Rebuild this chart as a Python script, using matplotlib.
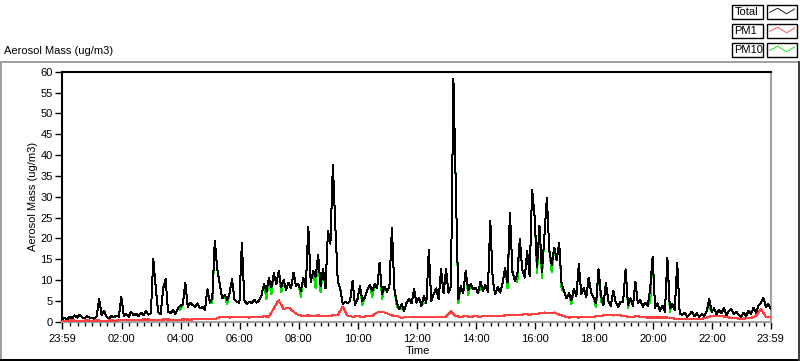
import matplotlib
matplotlib.use("Agg")
import matplotlib.pyplot as plt
import numpy as np
from matplotlib.patches import Rectangle
from matplotlib.lines import Line2D

plt.rcParams['font.family'] = ['Liberation Sans', 'DejaVu Sans']

# ---------------- data ----------------
# Total aerosol mass, 5-minute steps from 23:59 to 23:59 (one row per hour)
total_h00 = [0.6, 0.9, 0.5, 1.2, 0.8, 1.5, 1.0, 1.7, 1.1, 0.8, 1.4, 1.0]
total_h01 = [0.9, 0.7, 1.3, 5.4, 1.6, 2.6, 1.2, 0.8, 1.4, 1.1, 1.5, 1.2]
total_h02 = [6.0, 1.4, 1.8, 1.2, 2.4, 1.5, 1.9, 1.3, 2.2, 1.6, 2.6, 1.7]
total_h03 = [2.0, 15.0, 8.1, 2.2, 1.8, 8.0, 10.2, 2.4, 2.0, 2.8, 1.9, 3.2]
total_h04 = [3.8, 4.2, 9.4, 3.6, 4.5, 4.0, 3.6, 4.4, 3.2, 3.5, 2.9, 7.8]
total_h05 = [4.6, 5.8, 19.4, 12.6, 9.0, 5.6, 6.4, 5.2, 6.8, 10.2, 5.4, 4.8]
total_h06 = [4.5, 19.0, 5.2, 4.2, 4.8, 4.4, 5.3, 4.6, 5.0, 6.4, 9.0, 7.2]
total_h07 = [10.5, 8.2, 11.6, 9.0, 12.2, 8.4, 10.0, 7.6, 9.4, 8.0, 11.8, 8.6]
total_h08 = [9.0, 7.4, 10.6, 8.2, 22.8, 9.4, 12.2, 10.8, 16.0, 8.6, 12.6, 8.0]
total_h09 = [21.8, 18.7, 37.7, 22.9, 9.6, 7.8, 4.2, 4.8, 4.4, 5.0, 9.8, 4.0]
total_h10 = [5.4, 8.6, 5.0, 5.8, 7.6, 8.8, 7.4, 9.0, 8.0, 14.2, 6.6, 8.4]
total_h11 = [7.2, 8.6, 22.6, 7.8, 4.6, 3.0, 4.2, 2.6, 4.6, 5.4, 4.4, 7.8]
total_h12 = [4.6, 5.8, 3.8, 6.2, 4.4, 17.3, 5.0, 6.6, 8.0, 5.4, 12.6, 6.8]
total_h13 = [12.6, 7.0, 8.4, 58.3, 32.0, 5.4, 8.6, 6.8, 12.2, 7.6, 9.0, 7.8]
total_h14 = [8.2, 6.8, 9.6, 7.4, 8.8, 7.2, 24.2, 9.8, 6.6, 8.4, 7.0, 9.2]
total_h15 = [13.0, 9.4, 26.2, 12.0, 9.8, 11.4, 19.8, 12.4, 10.6, 17.0, 11.0, 31.7]
total_h16 = [25.4, 13.2, 23.0, 12.0, 20.6, 29.8, 17.0, 13.6, 17.8, 14.8, 19.0, 9.0]
total_h17 = [7.4, 5.6, 6.8, 5.2, 7.8, 6.2, 13.8, 6.6, 8.2, 5.8, 10.6, 7.0]
total_h18 = [5.8, 4.4, 12.6, 6.2, 4.0, 9.4, 5.0, 3.8, 7.4, 4.6, 3.6, 4.8]
total_h19 = [4.8, 12.6, 4.0, 5.6, 3.8, 9.6, 4.4, 5.2, 3.6, 4.6, 3.8, 7.8]
total_h20 = [15.6, 3.4, 4.4, 2.6, 3.8, 2.4, 15.3, 3.2, 4.2, 2.8, 14.2, 2.0]
total_h21 = [1.6, 2.2, 1.2, 1.8, 2.4, 1.4, 2.0, 1.2, 1.8, 1.4, 2.6, 5.4]
total_h22 = [2.4, 3.2, 1.8, 2.8, 2.0, 3.4, 1.6, 2.6, 3.0, 1.8, 2.4, 1.6]
total_h23 = [1.2, 2.2, 1.4, 2.6, 1.8, 3.4, 2.2, 3.8, 4.4, 5.8, 3.6, 4.2, 3.0]

# PM1, 10-minute steps from 23:59 to 23:59 (one row per hour)
pm1_h00 = [0.25, 0.25, 0.3, 0.25, 0.25, 0.3]
pm1_h01 = [0.25, 0.3, 0.25, 0.25, 0.3, 0.25]
pm1_h02 = [0.5, 0.45, 0.5, 0.45, 0.5, 0.55]
pm1_h03 = [0.5, 0.45, 0.5, 0.55, 0.5, 0.45]
pm1_h04 = [0.5, 0.55, 0.5, 0.6, 0.55, 0.6]
pm1_h05 = [0.6, 0.6, 1.1, 1.2, 1.0, 1.2]
pm1_h06 = [1.1, 1.2, 1.0, 1.2, 1.1, 1.3]
pm1_h07 = [1.2, 3.2, 5.2, 3.0, 3.4, 2.4]
pm1_h08 = [1.6, 1.4, 1.5, 1.4, 1.5, 1.4]
pm1_h09 = [1.4, 1.5, 1.6, 3.6, 1.4, 1.2]
pm1_h10 = [1.3, 1.2, 1.3, 1.4, 2.2, 2.4]
pm1_h11 = [2.0, 1.5, 1.4, 0.9, 1.2, 1.2]
pm1_h12 = [1.2, 1.2, 1.1, 1.2, 1.2, 1.2]
pm1_h13 = [1.2, 2.5, 1.3, 1.2, 1.3, 1.2]
pm1_h14 = [1.3, 1.2, 1.4, 1.3, 1.3, 1.4]
pm1_h15 = [1.5, 1.6, 1.7, 1.6, 1.8, 1.7]
pm1_h16 = [1.8, 2.0, 2.2, 2.0, 2.2, 1.7]
pm1_h17 = [1.3, 1.0, 1.1, 1.0, 1.1, 1.1]
pm1_h18 = [1.2, 1.4, 1.5, 1.6, 1.5, 1.6]
pm1_h19 = [1.4, 1.2, 1.2, 1.3, 1.1, 1.0]
pm1_h20 = [1.0, 1.0, 1.0, 1.0, 0.8, 0.7]
pm1_h21 = [0.6, 0.6, 0.7, 0.6, 0.7, 1.0]
pm1_h22 = [1.4, 1.3, 1.3, 1.2, 0.8, 0.8]
pm1_h23 = [0.7, 0.8, 0.9, 1.4, 3.0, 1.2, 1.0]

# PM10 equals Total except at these times (hours) where it is lower
pm10_dip_hours = [3.98, 5.07, 5.57, 6.87, 7.07, 7.40, 8.07, 8.57, 8.73, 10.15,
                  10.48, 10.82, 11.32, 11.48, 12.23, 13.40, 13.73, 14.15, 15.07, 15.40,
                  16.07, 16.23, 16.57, 16.90, 17.23, 18.07, 18.23, 19.15, 19.90, 20.57, 21.90]
pm10_dip_values = [2.8, 4.4, 4.2, 5.4, 6.6, 7.0, 6.0, 8.0, 7.0, 4.0,
                   6.0, 5.4, 3.6, 3.2, 4.6, 4.4, 6.4, 8.0, 8.0, 9.6,
                   11.6, 10.4, 11.8, 7.6, 4.2, 3.4, 4.8, 3.2, 4.6, 2.4, 3.8]

y_ticks = [0, 5, 10, 15, 20, 25, 30, 35, 40, 45, 50, 55, 60]
x_tick_labels = ['23:59', '02:00', '04:00', '06:00', '08:00', '10:00', '12:00',
                 '14:00', '16:00', '18:00', '20:00', '22:00', '23:59']
series_names = ['Total', 'PM1', 'PM10']

# ---------------- assemble ----------------
total = np.array(total_h00 + total_h01 + total_h02 + total_h03 + total_h04 + total_h05 +
                 total_h06 + total_h07 + total_h08 + total_h09 + total_h10 + total_h11 +
                 total_h12 + total_h13 + total_h14 + total_h15 + total_h16 + total_h17 +
                 total_h18 + total_h19 + total_h20 + total_h21 + total_h22 + total_h23)
pm1 = np.array(pm1_h00 + pm1_h01 + pm1_h02 + pm1_h03 + pm1_h04 + pm1_h05 +
               pm1_h06 + pm1_h07 + pm1_h08 + pm1_h09 + pm1_h10 + pm1_h11 +
               pm1_h12 + pm1_h13 + pm1_h14 + pm1_h15 + pm1_h16 + pm1_h17 +
               pm1_h18 + pm1_h19 + pm1_h20 + pm1_h21 + pm1_h22 + pm1_h23)
t0, t1 = -1 / 60, 24 - 1 / 60
t_total = np.linspace(t0, t1, len(total))
t_pm1 = np.linspace(t0, t1, len(pm1))
pm10 = total.copy()
step = (t1 - t0) / (len(total) - 1)
for h, v in zip(pm10_dip_hours, pm10_dip_values):
    pm10[int(round((h - t0) / step))] = v

# ---------------- figure ----------------
W, H = 800, 361
fig = plt.figure(figsize=(W / 100, H / 100), dpi=100)
fig.patch.set_facecolor('white')

def fx(x):
    return x / W

def fy(y):
    return 1 - y / H

L, R, T, B = 62.3, 770.7, 71.7, 321.7
ax = fig.add_axes([fx(L), fy(B), (R - L) / W, (B - T) / H])
ax.set_facecolor('white')

colors = {'Total': '#000000', 'PM1': '#ff4040', 'PM10': '#00e000'}
LW = 0.72
ax.plot(t_total, pm10, color=colors['PM10'], lw=LW, antialiased=False, zorder=2)
ax.plot(t_total, total, color=colors['Total'], lw=LW, antialiased=False, zorder=3)
ax.plot(t_pm1, pm1, color=colors['PM1'], lw=0.8, antialiased=False, zorder=4)

ax.set_xlim(t0, t1)
ax.set_ylim(0, 60)
ax.set_yticks(y_ticks)
ax.set_yticklabels([str(v) for v in y_ticks])
major_x = [t0] + list(range(2, 24, 2)) + [t1]
ax.set_xticks(major_x)
ax.set_xticklabels(x_tick_labels)
ax.set_xticks([m for m in np.arange(0.25, 24, 0.25) if m % 2 != 0], minor=True)

ax.tick_params(axis='y', which='major', direction='out', length=5, width=1,
               color='black', labelsize=8, pad=2)
ax.tick_params(axis='x', which='major', direction='out', length=5, width=1,
               color='black', labelsize=8, pad=4)
ax.tick_params(axis='x', which='minor', direction='out', length=3, width=1,
               color='black')

for side in ['left', 'top']:
    ax.spines[side].set_color('black')
    ax.spines[side].set_linewidth(1.5)
for side in ['right', 'bottom']:
    ax.spines[side].set_color('#a0a0a0')
    ax.spines[side].set_linewidth(1.5)

# axis titles
fig.text(fx(32.5), fy(196.7), 'Aerosol Mass (ug/m3)', rotation=90,
         ha='center', va='center', fontsize=8)
fig.text(fx(3.5), fy(51.5), 'Aerosol Mass (ug/m3)', ha='left', va='center', fontsize=8)
fig.text(fx(406), fy(351), 'Time', ha='left', va='center', fontsize=8)

# outer panel frame
fig.add_artist(Line2D([fx(0), fx(799)], [fy(61.7), fy(61.7)], color='#a0a0a0', lw=1.2,
                      transform=fig.transFigure, antialiased=False))
fig.add_artist(Line2D([fx(1), fx(1)], [fy(61.7), fy(359.3)], color='#a0a0a0', lw=1.2,
                      transform=fig.transFigure, antialiased=False))
fig.add_artist(Line2D([fx(0), fx(800)], [fy(359.5), fy(359.5)], color='black', lw=1.2,
                      transform=fig.transFigure, antialiased=False))
fig.add_artist(Line2D([fx(799), fx(799)], [fy(61.7), fy(360)], color='#404040', lw=1.2,
                      transform=fig.transFigure, antialiased=False))

# legend (LabVIEW style plot legend)
zig_x = [0.08, 0.35, 0.65, 0.92]
zig_y = [0.45, 0.75, 0.35, 0.70]
for i, name in enumerate(series_names):
    top = 4.7 + 19 * i
    h = 14
    box = Rectangle((fx(732.3), fy(top + h)), (762.7 - 732.3) / W, h / H,
                    transform=fig.transFigure, facecolor='white', edgecolor='black', lw=1)
    fig.add_artist(box)
    fig.text(fx(734.5), fy(top + h / 2 + 0.5), name, ha='left', va='center', fontsize=8)
    sx0, sx1 = 767.3, 797
    sbox = Rectangle((fx(sx0), fy(top + h)), (sx1 - sx0) / W, h / H,
                     transform=fig.transFigure, facecolor='white', edgecolor='black', lw=1)
    fig.add_artist(sbox)
    fig.add_artist(Line2D([fx(sx0 + (sx1 - sx0) * z) for z in zig_x],
                          [fy(top + h - h * z) for z in zig_y],
                          color=colors[name], lw=0.6, transform=fig.transFigure))

fig.savefig('out.png', dpi=100)
